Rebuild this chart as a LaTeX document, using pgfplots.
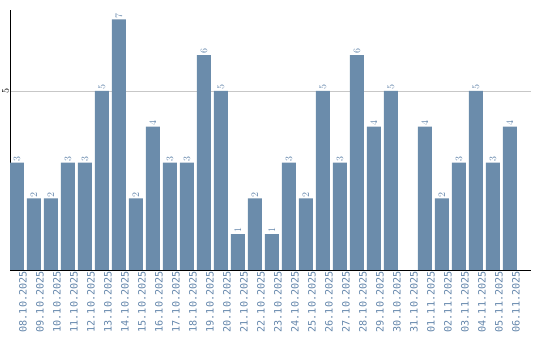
\documentclass[border=0pt]{standalone}
\usepackage{fontspec}
\setmainfont{DejaVu Sans}
\setmonofont{DejaVu Sans Mono}
\usepackage{pgfplots}
\pgfplotsset{compat=1.18}
\definecolor{barc}{HTML}{6B8CAB}
\definecolor{txtc}{HTML}{6486AB}
\begin{document}
\begin{tikzpicture}
\useasboundingbox (0,0) rectangle (540bp,340bp);
\begin{axis}[
  at={(10bp,70bp)}, anchor=south west, scale only axis,
  width=521bp, height=260bp,
  xmin=-0.41, xmax=30.24, ymin=0, ymax=7.26,
  axis x line*=bottom, axis y line*=left,
  axis line style={-, black, line width=1bp},
  xtick={0,...,29},
  xticklabels={08.10.2025,09.10.2025,10.10.2025,11.10.2025,12.10.2025,13.10.2025,14.10.2025,15.10.2025,16.10.2025,17.10.2025,18.10.2025,19.10.2025,20.10.2025,21.10.2025,22.10.2025,23.10.2025,24.10.2025,25.10.2025,26.10.2025,27.10.2025,28.10.2025,29.10.2025,30.10.2025,31.10.2025,01.11.2025,02.11.2025,03.11.2025,04.11.2025,05.11.2025,06.11.2025},
  xticklabel style={rotate=90, anchor=east, font=\ttfamily\fontsize{10.2}{12}\selectfont, text=txtc, inner sep=1bp, yshift=-6bp},
  ytick={5},
  yticklabel style={rotate=90, anchor=south, font=\ttfamily\fontsize{10}{12}\selectfont, text=black, inner sep=1bp},
  major tick length=0pt,
  ymajorgrids, grid style={draw=black!22, line width=0.8bp},
  ybar, bar width=14bp,
  nodes near coords,
  every node near coord/.append style={rotate=90, anchor=west, font=\ttfamily\fontsize{10.2}{12}\selectfont, text=txtc, inner sep=1bp},
]
\addplot[fill=barc, draw=none] coordinates {
(0,3) (1,2) (2,2) (3,3) (4,3) (5,5) (6,7) (7,2) (8,4) (9,3)
(10,3) (11,6) (12,5) (13,1) (14,2) (15,1) (16,3) (17,2) (18,5) (19,3)
(20,6) (21,4) (22,5) (24,4) (25,2) (26,3) (27,5) (28,3) (29,4)
};
\end{axis}
\end{tikzpicture}
\end{document}
